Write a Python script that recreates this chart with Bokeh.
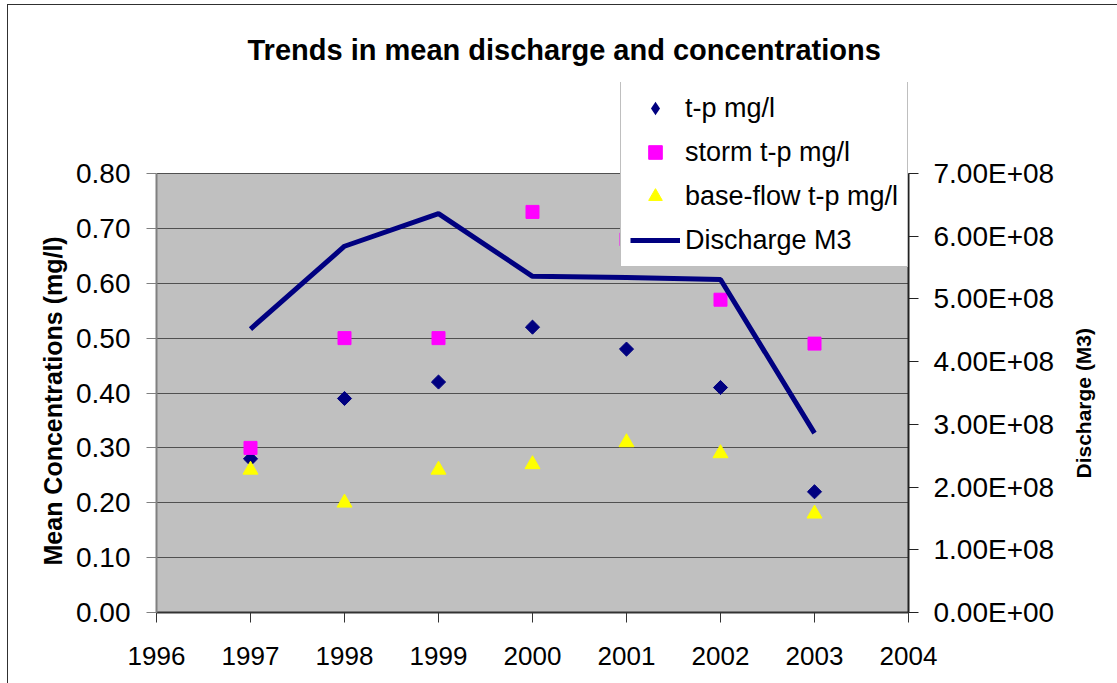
import math
from bokeh.plotting import figure
from bokeh.models import (Range1d, LinearAxis, FixedTicker, Legend, LegendItem,
                          BoxAnnotation, Title)
from bokeh.embed import file_html
from bokeh.resources import INLINE

# ---- data ----
years = [1997, 1998, 1999, 2000, 2001, 2002, 2003]
tp_mgl = [0.28, 0.39, 0.42, 0.52, 0.48, 0.41, 0.22]
storm_tp_mgl = [0.30, 0.50, 0.50, 0.73, 0.68, 0.57, 0.49]
baseflow_tp_mgl = [0.26, 0.20, 0.26, 0.27, 0.31, 0.29, 0.18]
discharge_m3 = [4.52e8, 5.84e8, 6.36e8, 5.36e8, 5.34e8, 5.31e8, 2.86e8]

year_ticks = [1996, 1997, 1998, 1999, 2000, 2001, 2002, 2003, 2004]
year_labels = ["1996", "1997", "1998", "1999", "2000", "2001", "2002", "2003", "2004"]
conc_ticks = [0.0, 0.1, 0.2, 0.3, 0.4, 0.5, 0.6, 0.7, 0.8]
conc_labels = ["0.00", "0.10", "0.20", "0.30", "0.40", "0.50", "0.60", "0.70", "0.80"]
q_ticks = [0, 100000000, 200000000, 300000000, 400000000, 500000000, 600000000, 700000000]
q_labels = ["0.00E+00", "1.00E+08", "2.00E+08", "3.00E+08", "4.00E+08", "5.00E+08", "6.00E+08", "7.00E+08"]
conc_max = 0.8
q_max = 7e8

FONT = "Liberation Sans"

# layout (page pixels)
W, H = 1117, 683
LEFT, RIGHT = 156, 908
AREA_TOP, BOTTOM, FRAME_TOP = 173, 612, 82
px_per_unit_q = (BOTTOM - AREA_TOP) / q_max
stretch = (BOTTOM - FRAME_TOP) / (BOTTOM - AREA_TOP)

p = figure(width=W, height=H, output_backend="svg", toolbar_location=None,
           x_range=Range1d(1996, 2004), y_range=Range1d(0, conc_max * stretch),
           min_border_left=LEFT, min_border_right=W - RIGHT, min_border_top=FRAME_TOP,
           min_border_bottom=H - BOTTOM,
           background_fill_color="white", border_fill_color=None)
p.styles = {"background": "linear-gradient(#303030,#303030) 7px 4px / 1px 100% no-repeat, "
                          "linear-gradient(#303030,#303030) 7px 4px / 100% 1px no-repeat, white"}
p.outline_line_color = None
p.extra_y_ranges = {"q": Range1d(0, q_max * stretch)}

# grey plotting area
p.add_layout(BoxAnnotation(bottom=0, top=conc_max, fill_color="#C0C0C0", fill_alpha=1,
                           line_color=None, level="image"))

# title
p.title.text = "Trends in mean discharge and concentrations"
p.title.align = "left"
p.title.offset = 91
p.title.standoff = 34
p.title.text_font = FONT
p.title.text_font_style = "bold"
p.title.text_font_size = "29px"
p.title.text_color = "black"

# grid
p.xgrid.visible = False
p.ygrid.ticker = FixedTicker(ticks=conc_ticks)
p.ygrid.grid_line_color = "#505050"
p.ygrid.grid_line_width = 1

# x axis
xa = p.xaxis[0]
xa.ticker = FixedTicker(ticks=year_ticks)
xa.major_label_overrides = dict(zip(year_ticks, year_labels))
xa.axis_line_color = "#333333"
xa.axis_line_width = 2
xa.major_tick_line_color = "#333333"
xa.major_tick_out = 10
xa.major_tick_in = 0
xa.minor_tick_line_color = None
xa.major_label_standoff = 24
xa.major_label_text_font = FONT
xa.major_label_text_font_size = "26px"
xa.major_label_text_color = "black"

# left axis
ya = p.yaxis[0]
ya.ticker = FixedTicker(ticks=conc_ticks)
ya.bounds = (0, conc_max)
ya.major_label_overrides = dict(zip(conc_ticks, conc_labels))
ya.axis_line_color = "#808080"
ya.axis_line_width = 2
ya.major_tick_line_color = "#808080"
ya.major_tick_out = 10
ya.major_tick_in = 0
ya.minor_tick_line_color = None
ya.major_label_standoff = 16
ya.major_label_text_font = FONT
ya.major_label_text_font_size = "28px"
ya.major_label_text_color = "black"

# left axis title
ltitle = Title(text="Mean Concentrations (mg/l)", align="left", offset=47, standoff=14,
               text_font=FONT, text_font_style="bold", text_font_size="25px",
               text_color="black")
p.add_layout(ltitle, "left")

# right axis
ra = LinearAxis(y_range_name="q", ticker=FixedTicker(ticks=q_ticks))
ra.bounds = (0, q_max)
ra.major_label_overrides = dict(zip(q_ticks, q_labels))
ra.axis_line_color = "#222222"
ra.axis_line_width = 2
ra.major_tick_line_color = "#222222"
ra.major_tick_out = 10
ra.major_tick_in = 0
ra.minor_tick_line_color = None
ra.major_label_standoff = 15
ra.major_label_text_font = FONT
ra.major_label_text_font_size = "28px"
ra.major_label_text_color = "black"
p.add_layout(ra, "right")

# right axis title: a label-only axis whose single tick sits at the title's lower end
rtitle_pos = (BOTTOM - 478) / px_per_unit_q
rt = LinearAxis(y_range_name="q", ticker=FixedTicker(ticks=[rtitle_pos]))
rt.major_label_overrides = {rtitle_pos: "Discharge (M3)"}
rt.major_label_orientation = math.pi / 2
rt.axis_line_color = None
rt.major_tick_line_color = None
rt.minor_tick_line_color = None
rt.major_tick_out = 0
rt.major_tick_in = 0
rt.major_label_standoff = 26
rt.major_label_text_font = FONT
rt.major_label_text_font_style = "bold"
rt.major_label_text_font_size = "21px"
rt.major_label_text_color = "black"
p.add_layout(rt, "right")

# series
r_tp = p.scatter(years, tp_mgl, marker="square", angle=math.pi / 4, size=10,
                 fill_color="#000080", line_color="#000080")
r_tp_key = p.scatter(years, tp_mgl, marker="diamond", size=0,
                     fill_color="#000080", line_color=None)
r_storm = p.scatter(years, storm_tp_mgl, marker="square", size=13,
                    fill_color="#FF00FF", line_color="#FF00FF")
r_base = p.scatter(years, baseflow_tp_mgl, marker="triangle", size=15,
                   fill_color="#FFFF00", line_color="#FFFF00")
r_q = p.line(years, discharge_m3, y_range_name="q", line_color="#000080", line_width=5)

legend = Legend(items=[
    LegendItem(label="t-p mg/l", renderers=[r_tp_key]),
    LegendItem(label="storm t-p mg/l", renderers=[r_storm]),
    LegendItem(label="base-flow t-p mg/l", renderers=[r_base]),
    LegendItem(label="Discharge M3", renderers=[r_q]),
], location=(620 - LEFT, BOTTOM - 267))
legend.label_text_font = FONT
legend.label_text_font_size = "27px"
legend.label_text_color = "black"
legend.glyph_width = 50
legend.glyph_height = 34
legend.label_height = 34
legend.spacing = 10
legend.padding = 9
legend.margin = 0
legend.label_standoff = 5
legend.border_line_color = "#808080"
legend.border_line_width = 1
legend.background_fill_color = "white"
legend.background_fill_alpha = 1
p.add_layout(legend, "center")

open("out.html", "w").write(file_html(p, INLINE))
